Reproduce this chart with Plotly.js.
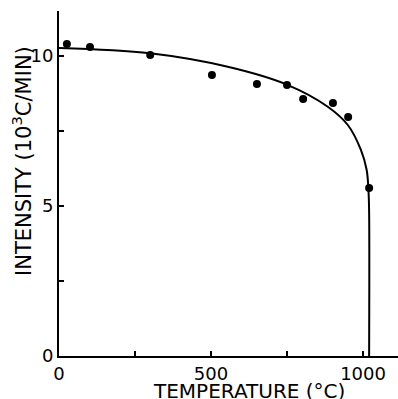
<!DOCTYPE html>
<html>
<head>
<meta charset="utf-8">
<script src="https://cdn.plot.ly/plotly-3.0.1.min.js"></script>
<style>html,body{margin:0;padding:0;background:#fff;}#chart{width:398px;height:399px;}</style>
</head>
<body>
<div id="chart"></div>
<script>
// Measured points
const pointTemp = [26, 102, 300, 503, 651, 750, 803, 901, 951, 1020];
const pointIntensity = [10.4, 10.3, 10.03, 9.37, 9.07, 9.03, 8.57, 8.43, 7.97, 5.6];
// Smooth curve drawn through the data
const curveTemp = [0, 300, 555, 751, 884, 950, 993, 1012, 1018, 1020, 1020];
const curveIntensity = [10.27, 10.09, 9.64, 9.04, 8.31, 7.7, 6.87, 6.2, 5.5, 4.8, 0];
// Ticks
const xTickVals = [0, 250, 500, 750, 1000];
const xTickText = ["0", "", "500", "", "1000"];
const yTickVals = [0, 2.5, 5, 7.5, 10];
const yTickText = ["0", "", "5", "", "10"];

const tickFont = {family: "DejaVu Sans, sans-serif", size: 18, color: "#000"};
const xTitleFont = {family: "DejaVu Sans, sans-serif", size: 20, color: "#000"};
const yTitleFont = {family: "DejaVu Sans, sans-serif", size: 21, color: "#000"};

const traces = [
  {x: curveTemp, y: curveIntensity, mode: "lines", line: {color: "#000", width: 2, shape: "spline", smoothing: 1}, hoverinfo: "skip"},
  {x: pointTemp, y: pointIntensity, mode: "markers", marker: {color: "#000", size: 8}}
];

const layout = {
  width: 398, height: 399,
  margin: {l: 59, r: 0, t: 11, b: 43},
  paper_bgcolor: "#fff", plot_bgcolor: "#fff",
  showlegend: false,
  font: tickFont,
  xaxis: {
    range: [0, 1115], showgrid: false, zeroline: false,
    showline: true, linecolor: "#000", linewidth: 2,
    ticks: "inside", ticklen: 5, tickwidth: 1.5, tickcolor: "#000",
    tickmode: "array", tickvals: xTickVals, ticktext: xTickText,
    tickfont: tickFont
  },
  yaxis: {
    range: [0, 11.5], showgrid: false, zeroline: false,
    showline: true, linecolor: "#000", linewidth: 2,
    ticks: "inside", ticklen: 5, tickwidth: 1.5, tickcolor: "#000",
    tickmode: "array", tickvals: yTickVals, ticktext: yTickText,
    tickfont: tickFont
  },
  annotations: [
    {text: "TEMPERATURE (°C)", xref: "paper", yref: "paper", x: (249-59)/339, y: 0, yshift: -35, xanchor: "center", yanchor: "middle", showarrow: false, font: xTitleFont},
    {text: "INTENSITY (10<sup>3</sup>C/MIN)", xref: "paper", yref: "paper", x: 0, xshift: -37, y: (356-161)/345, xanchor: "center", yanchor: "middle", textangle: -90, showarrow: false, font: yTitleFont}
  ]
};

Plotly.newPlot("chart", traces, layout, {displayModeBar: false, staticPlot: true});
</script>
</body>
</html>
